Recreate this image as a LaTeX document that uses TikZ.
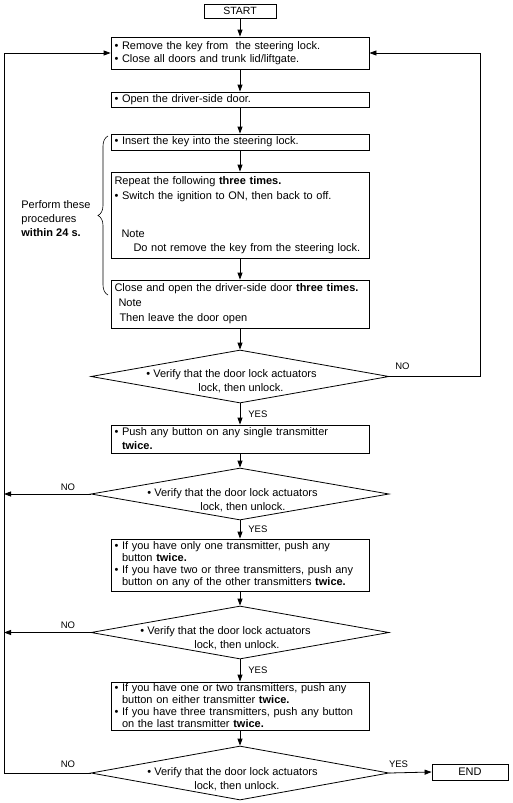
\documentclass[tikz,border=0pt]{standalone}
\usepackage{fontspec}
\setmainfont{Liberation Sans}
\usetikzlibrary{arrows.meta,shapes.geometric,decorations.pathreplacing}
\newcommand{\bul}{\textbullet\ }
\newcommand{\ind}{\hphantom{\textbullet\ }}
\begin{document}
\begin{tikzpicture}[x=1pt,y=-1pt, line width=0.8pt,
  >={Triangle[length=7pt,width=5pt]},
  every node/.style={font=\fontsize{11}{12.5}\selectfont},
  box/.style={draw, rectangle, minimum width=258pt, text width=251pt, inner xsep=3.5pt, inner ysep=0pt, align=left},
  term/.style={draw, rectangle, inner sep=0pt},
  dec/.style={draw, diamond, minimum width=298pt, minimum height=53pt, inner sep=0pt},
  dtext/.style={align=left, inner sep=0pt, anchor=west, font=\fontsize{11}{14}\selectfont},
  lab/.style={font=\fontsize{9.5}{10}\selectfont, inner sep=0pt},
  flow/.style={->}]
\useasboundingbox (0,0) rectangle (512,803);

% terminals
\node[term, minimum width=72pt, minimum height=14pt, font=\fontsize{10.5}{12}\selectfont] (start) at (240,11) {START};
\node[term, minimum width=76pt, minimum height=16pt] (end) at (470,772) {END};

% process boxes
\node[box, minimum height=32pt] (b1) at (240,53)
  {\bul Remove the key from\ \ the steering lock.\\[0.5pt]\bul Close all doors and trunk lid/liftgate.};
\node[box, minimum height=15pt] (b2) at (240,99.5) {\bul Open the driver-side door.};
\node[box, minimum height=16pt] (b3) at (240,142) {\bul Insert the key into the steering lock.};
\node[box, minimum height=86pt] (b4) at (240,215)
  {Repeat the following \textbf{three times.}\\[2.5pt]
   \bul Switch the ignition to ON, then back to off.\\[25pt]
   \hspace*{7pt}Note\\[1.5pt]
   \hspace*{19pt}Do not remove the key from the steering lock.};
\node[box, minimum height=48pt] (b5) at (240,304)
  {Close and open the driver-side door \textbf{three times.}\\[2.5pt]
   \hspace*{4pt}Note\\[2.5pt]
   \hspace*{5pt}Then leave the door open};
\node[box, minimum height=28pt] (b6) at (240,439)
  {\bul Push any button on any single transmitter\\[1.5pt]\ind\textbf{twice.}};
\node[box, minimum height=52pt] (b7) at (240,565)
  {\bul If you have only one transmitter, push any\\[-0.5pt]
   \ind button \textbf{twice.}\\[-0.5pt]
   \bul If you have two or three transmitters, push any\\[-0.5pt]
   \ind button on any of the other transmitters \textbf{twice.}};
\node[box, minimum height=48pt] (b8) at (240,706)
  {\bul If you have one or two transmitters, push any\\[-0.5pt]
   \ind button on either transmitter \textbf{twice.}\\[-0.5pt]
   \bul If you have three transmitters, push any button\\[-0.5pt]
   \ind on the last transmitter \textbf{twice.}};

% decisions
\node[dec] (d1) at (240,376.5) {};
\node[dec, minimum height=52pt] (d2) at (240,494) {};
\node[dec] (d3) at (240,632.5) {};
\node[dec, minimum height=54pt] (d4) at (240,773) {};
\node[dtext] (d1t) at (146,381) {\bul Verify that the door lock actuators\\\hspace*{52pt}lock, then unlock.};
\node[dtext] (d2t) at (147,500) {\bul Verify that the door lock actuators\\\hspace*{53pt}lock, then unlock.};
\node[dtext] (d3t) at (140,638) {\bul Verify that the door lock actuators\\\hspace*{54pt}lock, then unlock.};
\node[dtext] (d4t) at (147,779.5) {\bul Verify that the door lock actuators\\\hspace*{47pt}lock, then unlock.};

% brace and note
\draw[decorate, decoration={brace, amplitude=10pt}, line width=0.6pt] (108,295) -- (108,136);
\node[align=left, inner sep=0pt, anchor=west, font=\fontsize{11}{14}\selectfont] (perf) at (21,219)
  {Perform these\\procedures\\\textbf{within 24 s.}};

% loop coordinates
\coordinate (rr) at (480,53);
\coordinate (ll) at (4,53);
\coordinate (l2) at (4,494);
\coordinate (l3) at (4,632.5);

% main flow
\draw[flow] (start) -- (b1);
\draw[flow] (b1) -- (b2);
\draw[flow] (b2) -- (b3);
\draw[flow] (b3) -- (b4);
\draw[flow] (b4) -- (b5);
\draw[flow] (b5) -- (d1.north);
\draw[flow] (d1.south) -- node[lab, anchor=west, xshift=8pt] (y1) {YES} (b6);
\draw[flow] (b6) -- (d2.north);
\draw[flow] (d2.south) -- node[lab, anchor=west, xshift=8pt] (y2) {YES} (b7);
\draw[flow] (b7) -- (d3.north);
\draw[flow] (d3.south) -- node[lab, anchor=west, xshift=8pt] (y3) {YES} (b8);
\draw[flow] (b8) -- (d4.north);
\draw[flow] (d4.east) -- (end.west);

% NO branches
\draw[flow] (d1.east) -| (rr) -- (b1.east);
\draw[flow] (d2.west) -- (l2);
\draw[flow] (d3.west) -- (l3);
\draw[flow] (d4.west) -| (ll) -- (b1.west);

% branch labels
\node[lab] (n1) at (402.5,366) {NO};
\node[lab] (n2) at (68,487) {NO};
\node[lab] (n3) at (68,625) {NO};
\node[lab] (n4) at (68,764) {NO};
\node[lab] (y4) at (398.5,764) {YES};
\end{tikzpicture}
\end{document}
